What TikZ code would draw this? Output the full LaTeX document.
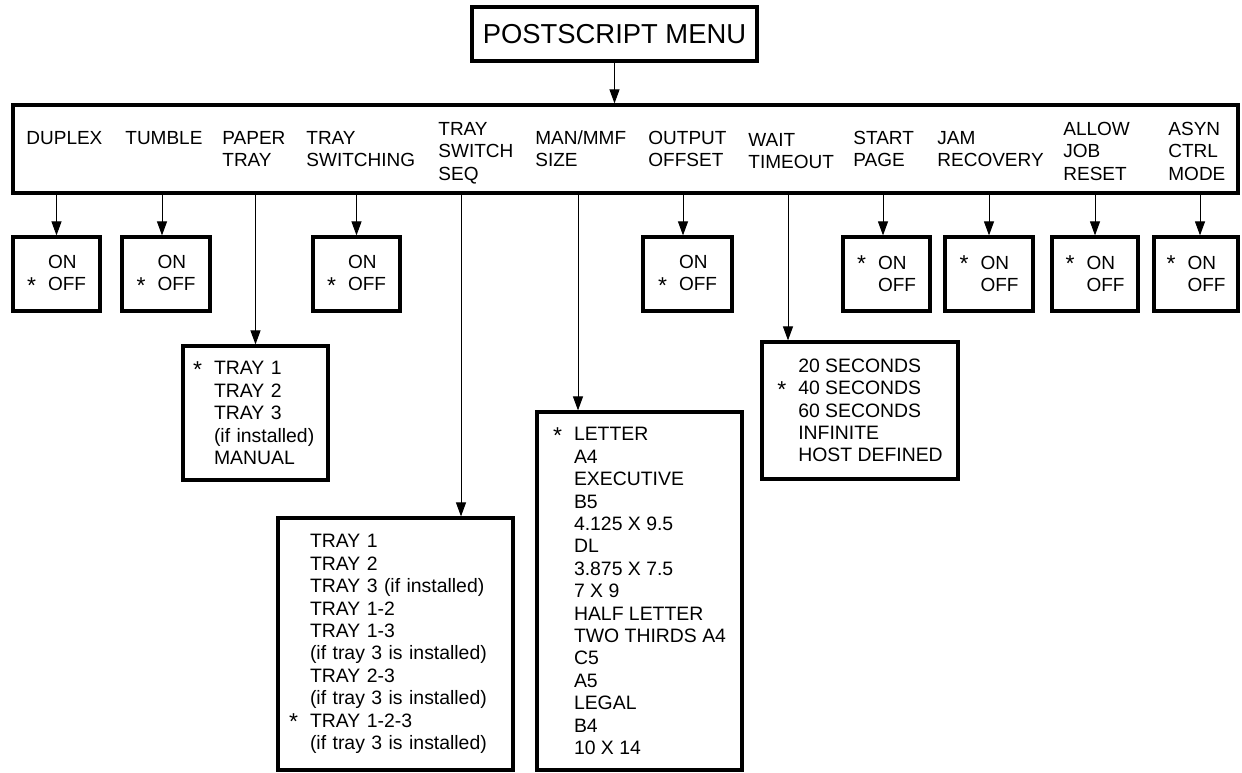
\documentclass[tikz,border=0pt]{standalone}
\usepackage{fontspec}
\setmainfont{Liberation Sans}
\usetikzlibrary{arrows.meta}
\newcommand{\dflt}{\makebox[10.5pt][l]{\raisebox{-1.2pt}{\fontsize{11.5}{11.5}\selectfont *}}}
\newcommand{\nodflt}{\makebox[10.5pt][l]{}}

\begin{document}
\begin{tikzpicture}[x=0.5pt,y=-0.5pt,
		every node/.style={font=\fontsize{9.5}{11.2}\selectfont},
		menubox/.style={draw,line width=1.6pt,inner sep=0pt},
		lbl/.style={anchor=base west,align=left,inner sep=0pt},
		optbox/.style={menubox,align=left},
		listbox/.style={menubox,align=left,font=\fontsize{9.7}{11.2}\selectfont},
		arr/.style={-{Triangle[length=7pt,width=5pt]},line width=0.5pt}]
	\useasboundingbox (0,0) rectangle (1242,772);
	% top and main menu
	\node[menubox,minimum width=142.5pt,minimum height=27pt,
		font=\fontsize{13.7}{16}\selectfont] (ps) at (614.5,34) {POSTSCRIPT MENU};
	\node[menubox,minimum width=612.5pt,minimum height=44pt] (menu) at (625.5,149) {};
	\draw[arr] (ps.south) -- (ps.south |- menu.north);
	% menu items (base = last line)
	\node[lbl] (lduplex) at (26,144.5) {DUPLEX};
	\node[lbl] (ltumble) at (125,144.5) {TUMBLE};
	\node[lbl] (lpaper) at (222,166.9) {PAPER\\TRAY};
	\node[lbl] (ltrsw) at (306,166.9) {TRAY\\SWITCHING};
	\node[lbl] (lseq) at (438,180.3) {TRAY\\SWITCH\\SEQ};
	\node[lbl] (lsize) at (535,166.9) {MAN/MMF\\SIZE};
	\node[lbl] (loffset) at (648,166.9) {OUTPUT\\OFFSET};
	\node[lbl] (lwait) at (748,168.9) {WAIT\\TIMEOUT};
	\node[lbl] (lstart) at (853,166.9) {START\\PAGE};
	\node[lbl] (ljam) at (937,166.9) {JAM\\RECOVERY};
	\node[lbl] (ljob) at (1063,180.3) {ALLOW\\JOB\\RESET};
	\node[lbl] (lasyn) at (1168,180.3) {ASYN\\CTRL\\MODE};
	% on/off choices
	\node[optbox,minimum width=43.5pt,minimum height=37pt] (duplex) at (56.5,274) {\nodflt ON\\\dflt OFF};
	\node[optbox,minimum width=44pt,minimum height=37pt] (tumble) at (166,274) {\nodflt ON\\\dflt OFF};
	\node[optbox,minimum width=43.5pt,minimum height=37pt] (trsw) at (356.5,274) {\nodflt ON\\\dflt OFF};
	\node[optbox,minimum width=44.5pt,minimum height=37pt] (offset) at (687.5,274) {\nodflt ON\\\dflt OFF};
	\node[optbox,minimum width=43.5pt,minimum height=37pt] (start) at (886.5,274) {\dflt ON\\\nodflt OFF};
	\node[optbox,minimum width=44pt,minimum height=37pt] (jam) at (989,274) {\dflt ON\\\nodflt OFF};
	\node[optbox,minimum width=43pt,minimum height=37pt] (job) at (1095,274) {\dflt ON\\\nodflt OFF};
	\node[optbox,minimum width=42pt,minimum height=37pt] (asyn) at (1196,274) {\dflt ON\\\nodflt OFF};
	% list choices
	\node[listbox,inner xsep=5pt,text width=62.5pt,minimum height=67pt] (paper) at (255.5,413)
		{\dflt TRAY 1\\\nodflt TRAY 2\\\nodflt TRAY 3\\\nodflt (if installed)\\\nodflt MANUAL};
	\node[listbox,inner xsep=5.5pt,text width=106.5pt,minimum height=126pt] (seq) at (395.5,644)
		{\nodflt TRAY 1\\\nodflt TRAY 2\\\nodflt TRAY 3 (if installed)\\\nodflt TRAY 1-2\\
		\nodflt TRAY 1-3\\\nodflt (if tray 3 is installed)\\\nodflt TRAY 2-3\\
		\nodflt (if tray 3 is installed)\\\dflt TRAY 1-2-3\\\nodflt (if tray 3 is installed)};
	\node[listbox,minimum width=102.5pt,minimum height=179pt] (size) at (639.5,591)
		{\dflt LETTER\\\nodflt A4\\\nodflt EXECUTIVE\\\nodflt B5\\\nodflt 4.125 X 9.5\\
		\nodflt DL\\\nodflt 3.875 X 7.5\\\nodflt 7 X 9\\\nodflt HALF LETTER\\
		\nodflt TWO THIRDS A4\\\nodflt C5\\\nodflt A5\\\nodflt LEGAL\\\nodflt B4\\\nodflt 10 X 14};
	\node[listbox,minimum width=98pt,minimum height=68.5pt] (wait) at (860,410.5)
		{\nodflt 20 SECONDS\\\dflt 40 SECONDS\\\nodflt 60 SECONDS\\\nodflt INFINITE\\\nodflt HOST DEFINED};
	% connectors
	\draw[arr] (menu.south -| duplex.north) -- (duplex.north);
	\draw[arr] (menu.south -| 162,0) -- (tumble.north -| 162,0);
	\draw[arr] (menu.south -| paper.north) -- (paper.north);
	\draw[arr] (menu.south -| trsw.north) -- (trsw.north);
	\draw[arr] (menu.south -| 461,0) -- (seq.north -| 461,0);
	\draw[arr] (menu.south -| 578,0) -- (size.north -| 578,0);
	\draw[arr] (menu.south -| 683,0) -- (offset.north -| 683,0);
	\draw[arr] (menu.south -| 788,0) -- (wait.north -| 788,0);
	\draw[arr] (menu.south -| 883,0) -- (start.north -| 883,0);
	\draw[arr] (menu.south -| jam.north) -- (jam.north);
	\draw[arr] (menu.south -| job.north) -- (job.north);
	\draw[arr] (menu.south -| 1200,0) -- (asyn.north -| 1200,0);
\end{tikzpicture}
\end{document}
